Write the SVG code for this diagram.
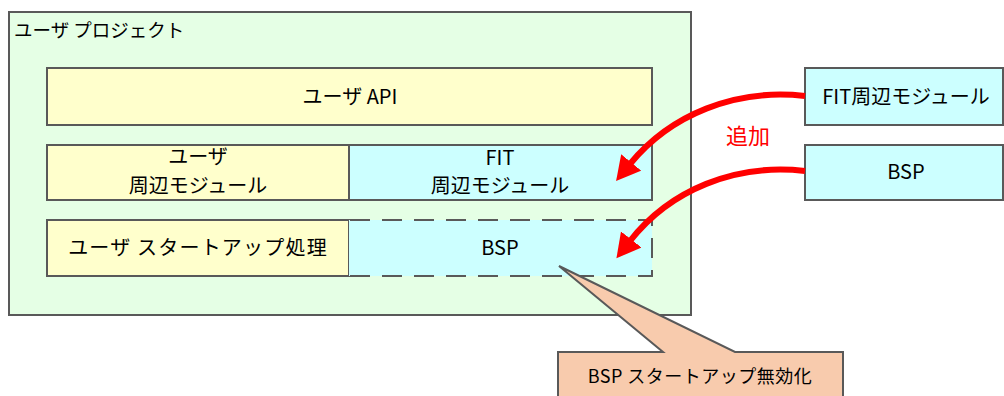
<svg xmlns="http://www.w3.org/2000/svg" width="1004" height="396" viewBox="0 0 1004 396">
<style>
.box{stroke:#595959;stroke-width:2}
.y{fill:#FFFFCC}
.c{fill:#CCFFFF}
.t{font-family:"Noto Sans CJK JP","Liberation Sans",sans-serif;font-size:20px;fill:#000;text-anchor:middle}
.arr{fill:none;stroke:#FF0000;stroke-width:6}
</style>
<defs>
<marker id="ah" markerUnits="userSpaceOnUse" markerWidth="30" markerHeight="30" refX="2" refY="13" orient="auto">
<path d="M0,0 L24,13 L0,26 z" fill="#FF0000"/>
</marker>
</defs>
<g id="project">
<rect x="9" y="12" width="682" height="303" fill="#E5FFE5" class="box"/>
<text x="14" y="37" font-family="Noto Sans CJK JP,Liberation Sans,sans-serif" font-size="18.5px" fill="#000">ユーザ プロジェクト</text>
</g>
<g id="user-api">
<rect x="47" y="68" width="605" height="57" class="box y"/>
<text x="350" y="104" class="t">ユーザ API</text>
</g>
<g id="user-periph">
<rect x="47" y="145" width="302" height="55" class="box y"/>
<text x="198" y="164" class="t">ユーザ</text>
<text x="198" y="193" class="t">周辺モジュール</text>
</g>
<g id="fit-periph">
<rect x="349" y="145" width="303" height="55" class="box c"/>
<text x="500" y="165" class="t">FIT</text>
<text x="500" y="193" class="t">周辺モジュール</text>
</g>
<g id="user-startup">
<rect x="47" y="220" width="302" height="56" class="box y"/>
<text x="198" y="255" class="t" letter-spacing="1.2">ユーザ スタートアップ処理</text>
</g>
<g id="bsp">
<rect x="349" y="220" width="303" height="56" class="c"/>
<path d="M350,220 H652 V276 H350" fill="none" stroke="#595959" stroke-width="2" stroke-dasharray="20 12"/>
<text x="500" y="255" class="t">BSP</text>
</g>
<g id="fit-periph-src">
<rect x="805" y="68" width="198" height="57" class="box c"/>
<text x="906" y="104" class="t">FIT周辺モジュール</text>
</g>
<g id="bsp-src">
<rect x="805" y="145" width="198" height="55" class="box c"/>
<text x="906" y="179" class="t">BSP</text>
</g>
<g id="connectors">
<path class="arr" d="M805,96 C735,88 670,115 630,164" marker-end="url(#ah)"/>
<path class="arr" d="M805,171 C735,163 670,190 630,241" marker-end="url(#ah)"/>
<text x="748" y="144" font-family="Noto Sans CJK JP,Liberation Sans,sans-serif" font-size="22px" fill="#FF0000" text-anchor="middle">追加</text>
</g>
<g id="callout">
<path d="M558,352 H663 L559,266 L735,352 H843 V400 H558 Z" fill="#F8CBAD" stroke="#595959" stroke-width="2"/>
<text x="700" y="383" font-family="Noto Sans CJK JP,Liberation Sans,sans-serif" font-size="18px" fill="#000" text-anchor="middle" letter-spacing="0.5">BSP スタートアップ無効化</text>
</g>
</svg>
